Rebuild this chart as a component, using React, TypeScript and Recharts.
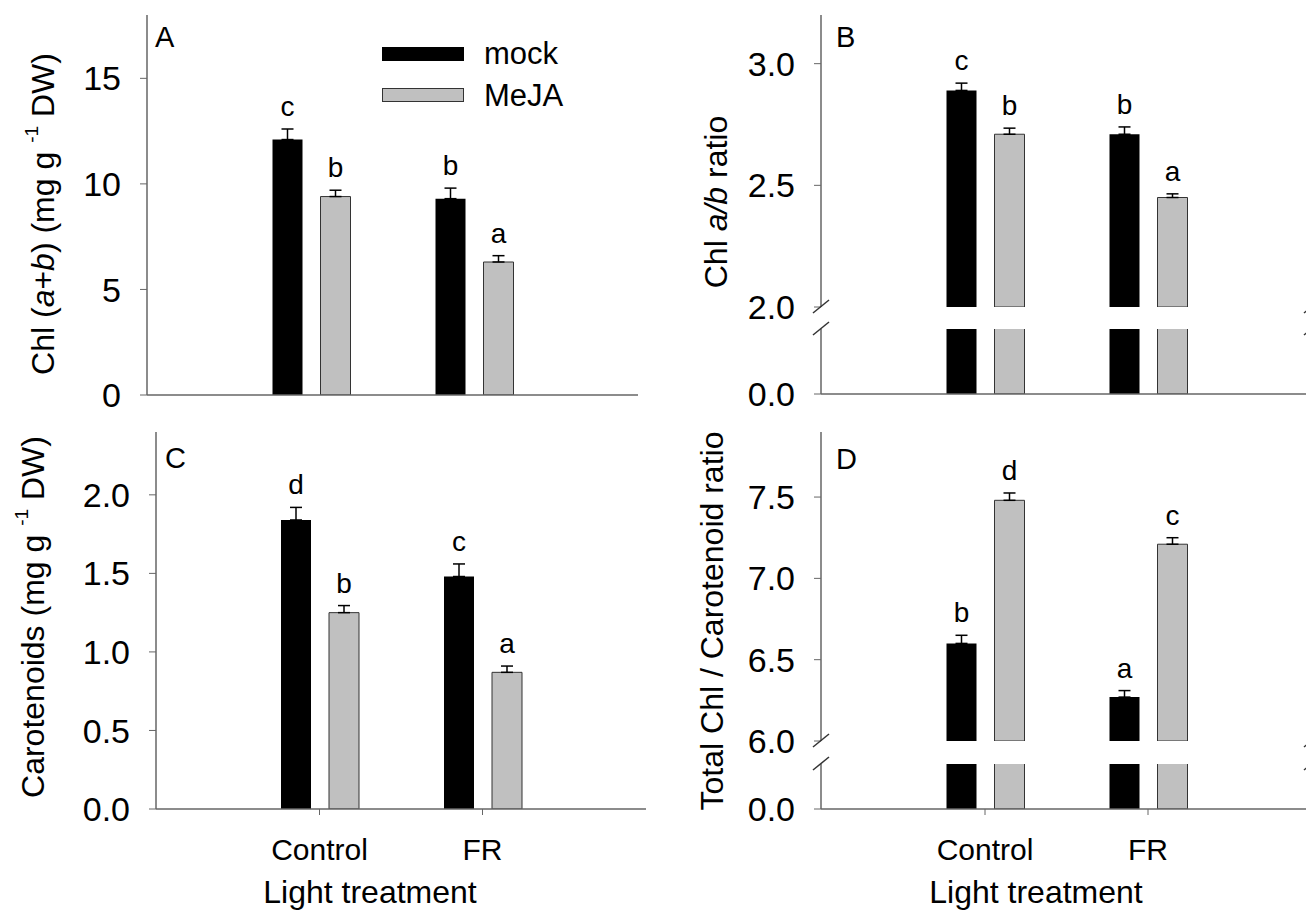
import React from "react";
import { BarChart, Bar, XAxis, YAxis, ErrorBar, LabelList } from "recharts";

const FONT = "'Liberation Sans', Arial, sans-serif";
const AXIS = "#666";
const FRAME = "#222";

const categories = ["Control", "FR"];
const seriesNames = ["mock", "MeJA"];

// A: total chlorophyll (mg g-1 DW)
const chlMock = [12.1, 9.3];
const chlMockErr = [0.5, 0.5];
const chlMeja = [9.4, 6.3];
const chlMejaErr = [0.3, 0.3];
const chlMockLetters = ["c", "b"];
const chlMejaLetters = ["b", "a"];
const chlTicks = [0, 5, 10, 15];

// B: chl a/b ratio (broken axis)
const abMock = [2.89, 2.71];
const abMockErr = [0.03, 0.03];
const abMeja = [2.71, 2.45];
const abMejaErr = [0.025, 0.015];
const abMockLetters = ["c", "b"];
const abMejaLetters = ["b", "a"];
const abTicks = [2.0, 2.5, 3.0];

// C: carotenoids (mg g-1 DW)
const carMock = [1.84, 1.48];
const carMockErr = [0.08, 0.08];
const carMeja = [1.25, 0.87];
const carMejaErr = [0.045, 0.04];
const carMockLetters = ["d", "c"];
const carMejaLetters = ["b", "a"];
const carTicks = [0, 0.5, 1.0, 1.5, 2.0];

// D: total chl / carotenoid ratio (broken axis)
const ratMock = [6.6, 6.27];
const ratMockErr = [0.05, 0.04];
const ratMeja = [7.48, 7.21];
const ratMejaErr = [0.045, 0.04];
const ratMockLetters = ["b", "a"];
const ratMejaLetters = ["d", "c"];
const ratTicks = [6.0, 6.5, 7.0, 7.5];

const lowTicks = [0];

type Row = {
  cat: string;
  mock: number;
  meja: number;
  mockErr: number[];
  mejaErr: number[];
  mockLetter: string;
  mejaLetter: string;
};

function makeRows(
  mock: number[],
  mockErr: number[],
  meja: number[],
  mejaErr: number[],
  mockLet: string[],
  mejaLet: string[]
): Row[] {
  return categories.map((cat, i) => ({
    cat,
    mock: mock[i],
    meja: meja[i],
    mockErr: [0, mockErr[i]],
    mejaErr: [0, mejaErr[i]],
    mockLetter: mockLet[i],
    mejaLetter: mejaLet[i],
  }));
}

const chlRows = makeRows(chlMock, chlMockErr, chlMeja, chlMejaErr, chlMockLetters, chlMejaLetters);
const abRows = makeRows(abMock, abMockErr, abMeja, abMejaErr, abMockLetters, abMejaLetters);
const carRows = makeRows(carMock, carMockErr, carMeja, carMejaErr, carMockLetters, carMejaLetters);
const ratRows = makeRows(ratMock, ratMockErr, ratMeja, ratMejaErr, ratMockLetters, ratMejaLetters);

// letter above the error bar
const letterLabel = (rows: Row[], key: "mock" | "meja", base: number) => (props: any) => {
  const vb = props.viewBox ?? props;
  const x = Number(vb.x ?? props.x);
  const y = Number(vb.y ?? props.y);
  const w = Number(vb.width ?? props.width);
  const h = Number(vb.height ?? props.height);
  const row = rows[props.index];
  if (!row) return null;
  const top = h >= 0 ? y : y + h;
  const ppu = Math.abs(h) / (row[key] - base);
  const err = key === "mock" ? row.mockErr[1] : row.mejaErr[1];
  const errTop = top - err * ppu;
  return (
    <text x={x + w / 2} y={errTop - 13} textAnchor="middle" fontSize={28} fontFamily={FONT} fill="#000">
      {key === "mock" ? row.mockLetter : row.mejaLetter}
    </text>
  );
};

const ML = 130;
const MT = 20;
const MR = 20;
const XH = 80;

type PanelProps = {
  rows: Row[];
  plotX: number;
  plotY: number;
  plotW: number;
  plotH: number;
  domain: [number, number];
  ticks: number[];
  fmt: (v: number) => string;
  frameTop: boolean;
  showX: boolean;
  xLabels?: boolean;
  marks: boolean;
};

function Panel({ rows, plotX, plotY, plotW, plotH, domain, ticks, fmt, frameTop, showX, xLabels = true, marks }: PanelProps) {
  const bottom = showX ? 0 : 30;
  const pad = (plotW - 2 * 163) / 2;
  return (
    <div style={{ position: "absolute", left: plotX - ML, top: plotY - MT }}>
      <BarChart
        width={ML + plotW + MR}
        height={MT + plotH + (showX ? XH : bottom)}
        data={rows}
        margin={{ top: MT, right: MR, left: 0, bottom }}
        barSize={30}
        barGap={18}
      >
        <XAxis
          dataKey="cat"
          hide={!showX}
          height={XH}
          padding={{ left: pad, right: pad }}
          interval={0}
          tickSize={6}
          tickMargin={24}
          axisLine={{ stroke: AXIS, strokeWidth: 1.5 }}
          tickLine={{ stroke: AXIS }}
          tick={xLabels ? { fontSize: 30, fill: "#000", fontFamily: FONT } : false}
        />
        {frameTop && (
          <XAxis
            xAxisId="top"
            orientation="top"
            dataKey="cat"
            height={0}
            tick={false}
            tickLine={false}
            padding={{ left: pad, right: pad }}
            axisLine={{ stroke: FRAME, strokeWidth: 1.5 }}
          />
        )}
        <YAxis
          type="number"
          domain={domain}
          ticks={ticks}
          allowDataOverflow
          width={ML}
          tickFormatter={fmt}
          tickSize={7}
          tickMargin={19}
          axisLine={{ stroke: AXIS, strokeWidth: 1.5 }}
          tickLine={{ stroke: AXIS }}
          tick={{ fontSize: 34, fill: "#000", fontFamily: FONT }}
        />
        <YAxis
          yAxisId="right"
          orientation="right"
          width={0}
          tick={false}
          tickLine={false}
          axisLine={{ stroke: AXIS, strokeWidth: 1.5 }}
        />
        <Bar dataKey="mock" name={seriesNames[0]} fill="#000" isAnimationActive={false}>
          {marks && <ErrorBar dataKey="mockErr" width={6} stroke="#000" strokeWidth={1.5} />}
          {marks && <LabelList dataKey="mockLetter" content={letterLabel(rows, "mock", domain[0])} />}
        </Bar>
        <Bar
          dataKey="meja"
          name={seriesNames[1]}
          fill="#c0c0c0"
          stroke="#333"
          strokeWidth={1}
          isAnimationActive={false}
        >
          {marks && <ErrorBar dataKey="mejaErr" width={6} stroke="#000" strokeWidth={1.5} />}
          {marks && <LabelList dataKey="mejaLetter" content={letterLabel(rows, "meja", domain[0])} />}
        </Bar>
      </BarChart>
    </div>
  );
}

const int = (v: number) => String(v);
const one = (v: number) => v.toFixed(1);

function Slash({ x, y }: { x: number; y: number }) {
  return <line x1={x - 8} y1={y + 6} x2={x + 8} y2={y - 7} stroke="#333" strokeWidth={1.5} />;
}

export default function App() {
  const txt = { fontFamily: FONT, fill: "#000" };
  return (
    <div
      style={{
        position: "absolute",
        left: 0,
        top: 0,
        width: 1306,
        height: 915,
        overflow: "hidden",
        background: "#fff",
      }}
    >
      {/* A */}
      <Panel rows={chlRows} plotX={147} plotY={15} plotW={491} plotH={380} domain={[0, 18]} ticks={chlTicks} fmt={int} frameTop showX xLabels={false} marks />
      {/* B upper / lower */}
      <Panel rows={abRows} plotX={821} plotY={15} plotW={491} plotH={292} domain={[2, 3.2]} ticks={abTicks} fmt={one} frameTop showX={false} marks />
      <Panel rows={abRows} plotX={821} plotY={329} plotW={491} plotH={65} domain={[0, 0.3]} ticks={lowTicks} fmt={one} frameTop={false} showX xLabels={false} marks={false} />
      {/* C */}
      <Panel rows={carRows} plotX={156} plotY={432} plotW={490} plotH={377} domain={[0, 2.4]} ticks={carTicks} fmt={one} frameTop showX marks />
      {/* D upper / lower */}
      <Panel rows={ratRows} plotX={821} plotY={432} plotW={491} plotH={309} domain={[6, 7.9]} ticks={ratTicks} fmt={one} frameTop showX={false} marks />
      <Panel rows={ratRows} plotX={821} plotY={764} plotW={491} plotH={45} domain={[0, 0.3]} ticks={lowTicks} fmt={one} frameTop={false} showX marks={false} />

      <svg width={1306} height={915} style={{ position: "absolute", left: 0, top: 0, pointerEvents: "none" }}>
        {/* panel letters */}
        <text x={155} y={47} fontSize={29} {...txt}>A</text>
        <text x={836} y={47} fontSize={29} {...txt}>B</text>
        <text x={165} y={468} fontSize={29} {...txt}>C</text>
        <text x={836} y={469} fontSize={29} {...txt}>D</text>

        {/* legend */}
        <rect x={382} y={47} width={82} height={14} fill="#000" />
        <rect x={382.5} y={88.5} width={81} height={13} fill="#c0c0c0" stroke="#333" strokeWidth={1} />
        <text x={484} y={64} fontSize={31} {...txt}>{seriesNames[0]}</text>
        <text x={484} y={106} fontSize={31} {...txt}>{seriesNames[1]}</text>

        {/* y titles */}
        <text transform="translate(43,214) rotate(-90)" textAnchor="middle" dominantBaseline="central" fontSize={32} {...txt}>
          Chl (<tspan fontStyle="italic">a</tspan>+<tspan fontStyle="italic">b</tspan>) (mg g{" "}
          <tspan fontSize={19} dy={-12}>-1</tspan>
          <tspan dy={12}> DW)</tspan>
        </text>
        <text transform="translate(716,202) rotate(-90)" textAnchor="middle" dominantBaseline="central" fontSize={32} {...txt}>
          Chl <tspan fontStyle="italic">a/b</tspan> ratio
        </text>
        <text transform="translate(33,617) rotate(-90)" textAnchor="middle" dominantBaseline="central" fontSize={32} {...txt}>
          Carotenoids (mg g <tspan fontSize={19} dy={-12}>-1</tspan>
          <tspan dy={12}> DW)</tspan>
        </text>
        <text transform="translate(712,621) rotate(-90)" textAnchor="middle" dominantBaseline="central" fontSize={32} {...txt}>
          Total Chl / Carotenoid ratio
        </text>

        {/* x titles */}
        <text x={370} y={903} textAnchor="middle" fontSize={32} {...txt}>Light treatment</text>
        <text x={1036} y={903} textAnchor="middle" fontSize={32} {...txt}>Light treatment</text>

        {/* axis breaks */}
        <Slash x={821} y={307} />
        <Slash x={821} y={329} />
        <Slash x={1312} y={307} />
        <Slash x={1312} y={329} />
        <Slash x={821} y={741} />
        <Slash x={821} y={764} />
        <Slash x={1312} y={741} />
        <Slash x={1312} y={764} />
      </svg>
    </div>
  );
}
